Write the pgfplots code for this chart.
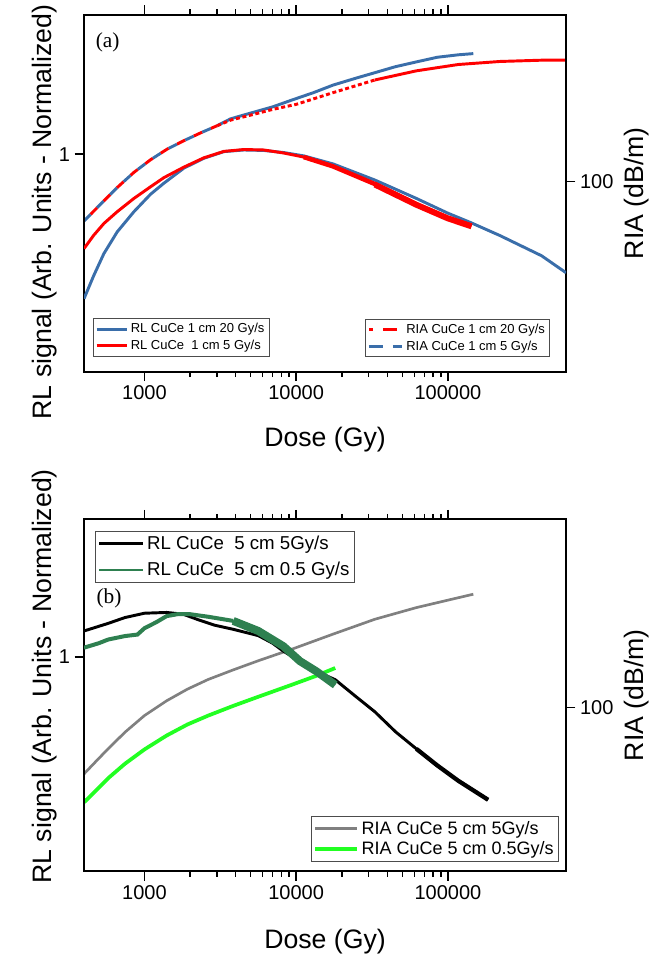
\documentclass[border=0pt]{standalone}
\usepackage{fontspec}
\setmainfont{Liberation Sans}
\newfontfamily\seriffont{Liberation Serif}
\usepackage{pgfplots}
\pgfplotsset{compat=1.18}
\definecolor{rlblue}{HTML}{3A6EAA}
\definecolor{rlred}{HTML}{FF0000}
\definecolor{dkgreen}{HTML}{2E8050}
\definecolor{brgreen}{HTML}{22FF22}
\definecolor{riagray}{HTML}{808080}

\begin{document}
\begin{tikzpicture}

% ---------------- panel (a) ----------------
\begin{axis}[scale only axis, width=361.5pt, height=267.75pt, at={(0pt,0pt)}, anchor=north west,
  xmode=log, ymode=log, xmin=400, xmax=600000, ymin=20, ymax=410,
  log ticks with fixed point, /pgf/number format/1000 sep={},
  /pgf/number format/assume math mode=true,
  axis line style={line width=1.5pt},
  tick align=outside, major tick length=7pt, minor tick length=4pt,
  tick style={line width=1.1pt, black},
  tick label style={font=\fontsize{15}{18}\selectfont},
  label style={font=\fontsize{20}{24}\selectfont},
  legend cell align=left,
  xtick=\empty, ytickten={2}, ytick pos=right, yticklabel pos=right,
  ylabel={RIA (dB/m)},
  ylabel style={at={(axis description cs:1.147,0.5)}, anchor=center},
  legend style={draw=black!70, line width=0.7pt, inner sep=1.5pt, row sep=0pt,
    font=\fontsize{9.75}{9.75}\selectfont,
    at={(axis description cs:0.967,0.04)}, anchor=south east},
  legend image code/.code={\draw[#1, dash pattern=on 10.5pt off 7.5pt] (0pt,0pt) -- (25pt,0pt);},
]
\addplot[rlred, line width=2.2pt, dash pattern=on 7pt off 7pt, dash phase=7pt] coordinates {
(400,71.5)(514,82.5)(662,95.0)(853,108)(1099,120.2)(1413,131.5)(1820,141.2)(2344,150.8)(3017,160.3)};
\addlegendentry{RIA CuCe 1 cm 20 Gy/s}
\addplot[rlblue, line width=2.2pt, dash pattern=on 7pt off 7pt] coordinates {
(400,71.5)(514,82.5)(662,95.0)(853,108)(1099,120.2)(1413,131.5)(1820,141.2)(2344,150.8)(3017,160.3)};
\addlegendentry{RIA CuCe 1 cm 5 Gy/s}
\addplot[rlblue, line width=2.2pt, forget plot] coordinates {
(3017,160.3)(3699,169.9)(4950,178)(7000,188)(9330,199)(13000,212)(17500,226)(25000,240)
(33000,251)(45000,264)(62000,275)(85000,286)(117000,292)(147000,295)};
\addplot[rlred, line width=2.2pt, dash pattern=on 3pt off 2pt, forget plot] coordinates {
(3017,160.3)(3699,168)(4950,175)(7000,184)(10000,192)(17500,212)(33000,236)};
\addplot[rlred, line width=2.2pt, forget plot] coordinates {
(33000,236)(62000,255)(117000,269)(220000,276)(414000,279)(600000,279)};
\end{axis}

\begin{axis}[scale only axis, width=361.5pt, height=267.75pt, at={(0pt,0pt)}, anchor=north west,
  xmode=log, ymode=log, xmin=400, xmax=600000, ymin=0.4, ymax=1.8,
  log ticks with fixed point, /pgf/number format/1000 sep={},
  /pgf/number format/assume math mode=true,
  axis line style={line width=1.5pt},
  tick align=outside, major tick length=7pt, minor tick length=4pt,
  tick style={line width=1.1pt, black},
  tick label style={font=\fontsize{15}{18}\selectfont},
  label style={font=\fontsize{20}{24}\selectfont},
  legend cell align=left,
  xtickten={3,4,5}, ytickten={0}, ytick pos=left,
  xlabel={Dose (Gy)}, ylabel={RL signal (Arb. Units - Normalized)},
  xlabel style={at={(axis description cs:0.5,-0.19)}, anchor=center},
  ylabel style={at={(axis description cs:-0.081,0.447)}, anchor=center},
  legend style={draw=black!70, line width=0.7pt, inner sep=1.5pt, row sep=0pt,
    font=\fontsize{9.75}{9.75}\selectfont,
    at={(axis description cs:0.018,0.042)}, anchor=south west},
  legend image code/.code={\draw[#1] (0pt,0pt) -- (22.5pt,0pt);},
]
\addplot[rlblue, line width=2.2pt] coordinates {
(400,0.544)(464,0.600)(541,0.658)(662,0.721)(853,0.785)(1099,0.845)(1344,0.885)(1820,0.943)
(2466,0.983)(3342,1.011)(4522,1.018)(6124,1.016)(8297,1.007)(11230,0.993)(17500,0.960)
(33000,0.897)(62000,0.830)(100000,0.780)(141000,0.750)(220000,0.710)(414000,0.652)(600000,0.607)};
\addlegendentry{RL CuCe 1 cm 20 Gy/s}
\addplot[rlred, line width=2.2pt] coordinates {
(400,0.672)(464,0.711)(541,0.747)(662,0.785)(853,0.830)(1099,0.872)(1344,0.906)(1820,0.947)
(2466,0.985)(3342,1.012)(4522,1.020)(6124,1.018)(8297,1.005)(11230,0.988)(17500,0.950)
(33000,0.882)(62000,0.810)(100000,0.765)(143000,0.740)};
\addlegendentry{RL CuCe\ \ 1 cm 5 Gy/s}
\addplot[rlred, line width=3.4pt, forget plot] coordinates {
(11230,0.988)(17500,0.950)(33000,0.882)(62000,0.810)(100000,0.765)(143000,0.740)};
\addplot[rlred, line width=4.4pt, forget plot] coordinates {
(33000,0.880)(62000,0.808)(100000,0.763)(143000,0.738)};
\node[font=\seriffont\fontsize{16}{18}\selectfont] at (rel axis cs:0.049,0.922) {(a)};
\end{axis}

% ---------------- panel (b) ----------------
\begin{axis}[scale only axis, width=361.5pt, height=264pt, at={(0pt,-378.45pt)}, anchor=north west,
  xmode=log, ymode=log, xmin=400, xmax=600000, ymin=21, ymax=600,
  log ticks with fixed point, /pgf/number format/1000 sep={},
  /pgf/number format/assume math mode=true,
  axis line style={line width=1.5pt},
  tick align=outside, major tick length=7pt, minor tick length=4pt,
  tick style={line width=1.1pt, black},
  tick label style={font=\fontsize{15}{18}\selectfont},
  label style={font=\fontsize{20}{24}\selectfont},
  legend cell align=left,
  xtick=\empty, ytickten={2}, ytick pos=right, yticklabel pos=right,
  ylabel={RIA (dB/m)},
  ylabel style={at={(axis description cs:1.147,0.5)}, anchor=center},
  legend style={draw=black!70, line width=0.7pt, inner sep=1.5pt, row sep=0pt,
    font=\fontsize{13.5}{13.5}\selectfont,
    at={(axis description cs:0.985,0.027)}, anchor=south east},
  legend image code/.code={\draw[#1] (0pt,0pt) -- (31.5pt,0pt);},
]
\addplot[riagray, line width=2pt] coordinates {
(400,53.1)(500,61.5)(578,67.5)(745,79)(1000,92.5)(1400,106.5)(1920,119)(2630,130.5)(3850,143)
(5630,156)(9330,174)(17500,201)(33000,231.6)(62000,258.8)(100000,277.8)(147000,294)};
\addlegendentry{RIA CuCe 5 cm 5Gy/s}
\addplot[brgreen, line width=2.8pt] coordinates {
(400,40.5)(500,46.5)(578,51)(745,58.5)(1000,67)(1400,76.5)(1920,85)(2630,92.5)(3850,101.5)
(5630,110.7)(9330,124)(13600,135.2)(18100,145.6)};
\addlegendentry{RIA CuCe 5 cm 0.5Gy/s}
\end{axis}

\begin{axis}[scale only axis, width=361.5pt, height=264pt, at={(0pt,-378.45pt)}, anchor=north west,
  xmode=log, ymode=log, xmin=400, xmax=600000, ymin=0.4, ymax=1.8,
  log ticks with fixed point, /pgf/number format/1000 sep={},
  /pgf/number format/assume math mode=true,
  axis line style={line width=1.5pt},
  tick align=outside, major tick length=7pt, minor tick length=4pt,
  tick style={line width=1.1pt, black},
  tick label style={font=\fontsize{15}{18}\selectfont},
  label style={font=\fontsize{20}{24}\selectfont},
  legend cell align=left,
  xtickten={3,4,5}, ytickten={0}, ytick pos=left,
  xlabel={Dose (Gy)}, ylabel={RL signal (Arb. Units - Normalized)},
  xlabel style={at={(axis description cs:0.5,-0.199)}, anchor=center},
  ylabel style={at={(axis description cs:-0.081,0.554)}, anchor=center},
  legend style={draw=black!70, line width=0.7pt, inner sep=1.5pt, row sep=4pt,
    font=\fontsize{14}{14}\selectfont,
    at={(axis description cs:0.023,0.967)}, anchor=north west},
  legend image code/.code={\draw[#1] (0pt,0pt) -- (33pt,0pt);},
]
\addplot[black, line width=2.2pt] coordinates {
(400,1.117)(578,1.154)(745,1.183)(1000,1.205)(1400,1.209)(1800,1.20)(2300,1.17)(2900,1.145)
(3850,1.125)(5630,1.095)(7000,1.06)(8220,1.025)(10590,0.982)(13600,0.940)(18100,0.907)
(24000,0.850)(33000,0.791)(45200,0.726)(62000,0.675)(85000,0.629)(117000,0.589)(184000,0.543)};
\addlegendentry{RL CuCe\ \ 5 cm 5Gy/s}
\addplot[black, line width=3.2pt, forget plot] coordinates {
(62000,0.675)(85000,0.629)(117000,0.589)(184000,0.543)};
\addplot[dkgreen, line width=1pt] coordinates {
(400,1.04)(500,1.06)(578,1.077)(745,1.093)(900,1.10)(1000,1.13)(1200,1.16)(1400,1.19)
(1650,1.20)(2000,1.20)(2630,1.187)(3850,1.166)(5630,1.117)(8220,1.047)(10590,0.982)
(13600,0.940)(18100,0.887)};
\addlegendentry{RL CuCe\ \ 5 cm 0.5 Gy/s}
\addplot[dkgreen, line width=3pt, forget plot] coordinates {
(400,1.04)(500,1.06)(578,1.077)(745,1.093)(900,1.10)(1000,1.13)(1200,1.16)(1400,1.19)
(1650,1.20)(2000,1.20)(2630,1.187)(3850,1.166)};
\addplot[dkgreen, line width=6pt, forget plot] coordinates {
(3850,1.166)(5630,1.117)(8220,1.047)(10590,0.982)(13600,0.940)(18100,0.887)};
\node[font=\seriffont\fontsize{16}{18}\selectfont] at (rel axis cs:0.052,0.774) {(b)};
\end{axis}

\pgfresetboundingbox
\path[use as bounding box] (-63pt,11.025pt) rectangle (426.75pt,-705.975pt);
\end{tikzpicture}
\end{document}
